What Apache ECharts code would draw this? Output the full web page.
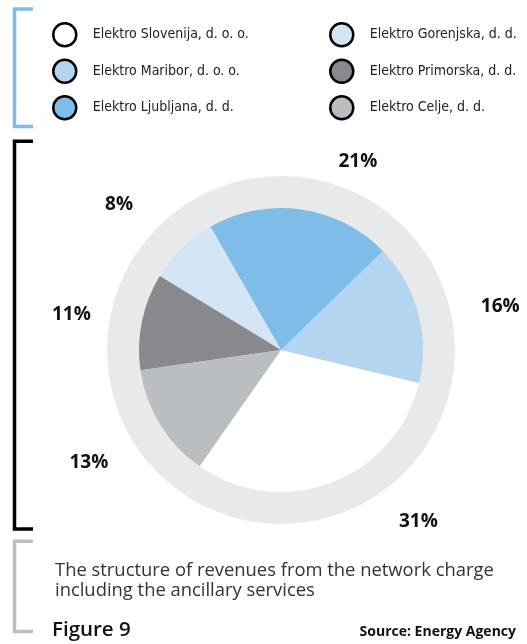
<!DOCTYPE html>
<html>
<head>
<meta charset="utf-8">
<script src="https://cdn.jsdelivr.net/npm/echarts@6/dist/echarts.min.js"></script>
<style>
  html, body { margin: 0; padding: 0; background: #fff; }
  #chart { width: 527px; height: 644px; }
</style>
</head>
<body>
<div id="chart"></div>
<script>
// pie data, in legend order (drawn counter-clockwise)
var companyNames = ['Elektro Slovenija, d. o. o.', 'Elektro Maribor, d. o. o.', 'Elektro Ljubljana, d. d.',
	'Elektro Gorenjska, d. d.', 'Elektro Primorska, d. d.', 'Elektro Celje, d. d.'];
var shareValues = [31, 16, 21, 8, 11, 13];
var sliceColors = ['#ffffff', '#b3d5f0', '#7dbde7', '#d3e5f5', '#87898d', '#bbbec1'];
// small nudges of the percent labels (the original places them by hand)
var labelNudges = [[61, -29], [12, 14], [47, 25], [-12, 9], [1, 8], [-9, 0]];

var captionLines = ['The structure of revenues from the network charge', 'including the ancillary services'];
var figureTitle = 'Figure 9';
var sourceText = 'Source: Energy Agency';

var chart = echarts.init(document.getElementById('chart'));

var pieData = companyNames.map(function (name, i) {
	return { name: name, value: shareValues[i], itemStyle: { color: sliceColors[i] } };
});
var labelData = companyNames.map(function (name, i) {
	return { name: name, value: shareValues[i], label: { offset: labelNudges[i] } };
});

var center = [281, 350];

//图例
var legendBase = {
	orient: 'vertical',
	top: 22,
	padding: 0,
	icon: 'circle',
	itemWidth: 46,
	itemHeight: 23,
	itemGap: 11,
	selectedMode: false,
	itemStyle: { borderColor: '#000', borderWidth: 2.5 },
	textStyle: { color: '#222', fontSize: 14, fontFamily: '"DejaVu Sans Condensed", "Liberation Sans Narrow", "Open Sans", sans-serif' }
};

chart.setOption({
	animation: false,
	legend: [
		Object.assign({}, legendBase, { left: 52, data: companyNames.slice(0, 3) }),
		Object.assign({}, legendBase, { left: 329, data: companyNames.slice(3) })
	],
	graphic: [
		{ type: 'polyline', shape: { points: [[33, 9], [14.5, 9], [14.5, 126.5], [33, 126.5]] },
			style: { stroke: '#7dbde8', lineWidth: 3.5, fill: null } },
		{ type: 'polyline', shape: { points: [[33, 141.3], [14.5, 141.3], [14.5, 529], [33, 529]] },
			style: { stroke: '#000', lineWidth: 3.5, fill: null } },
		{ type: 'polyline', shape: { points: [[33, 541.3], [14.5, 541.3], [14.5, 631.5], [33, 631.5]] },
			style: { stroke: '#bcbec0', lineWidth: 3.5, fill: null } },
		{ type: 'text', left: 55, top: 561, style: { text: captionLines.join('\n'), fill: '#333', font: '18.4px "Open Sans", sans-serif', lineHeight: 20 } },
		{ type: 'text', left: 52, top: 620, style: { text: figureTitle, fill: '#111', font: '600 20.5px "Open Sans", sans-serif' } },
		{ type: 'text', right: 11, top: 625, style: { text: sourceText, fill: '#111', font: 'bold 14px "Open Sans", sans-serif' } }
	],
	series: [
		{
			//外圈灰环
			type: 'pie',
			silent: true,
			center: center,
			radius: [0, 174],
			label: { show: false },
			labelLine: { show: false },
			data: [{ name: '', value: 1, itemStyle: { color: '#e8e9ea' } }]
		},
		{
			type: 'pie',
			center: center,
			radius: [0, 142],
			startAngle: 235,
			clockwise: false,
			silent: true,
			label: { show: false },
			labelLine: { show: false },
			data: pieData
		},
		{
			//百分比标签
			type: 'pie',
			center: center,
			radius: [200, 224],
			startAngle: 235,
			clockwise: false,
			silent: true,
			itemStyle: { color: 'rgba(0,0,0,0)' },
			label: {
				show: true,
				position: 'inside',
				formatter: '{c}%',
				color: '#111',
				fontSize: 19,
				fontWeight: 'bold',
				fontFamily: '"Open Sans", sans-serif'
			},
			labelLine: { show: false },
			data: labelData
		}
	]
});
</script>
</body>
</html>
